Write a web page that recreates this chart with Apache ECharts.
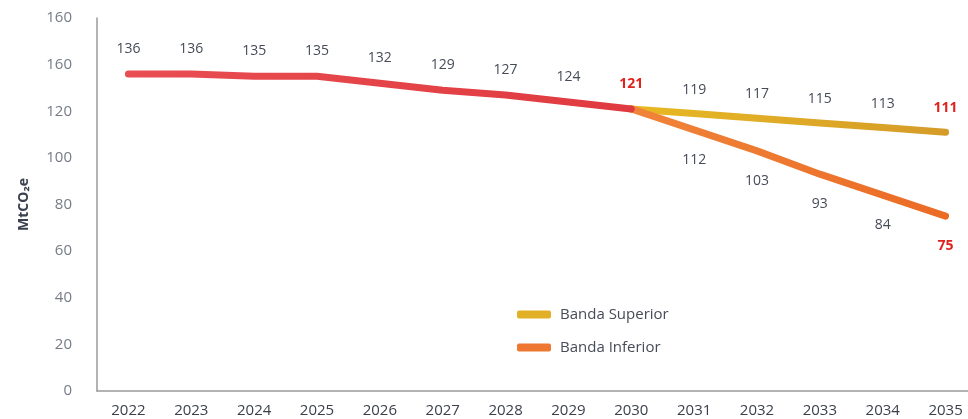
<!DOCTYPE html>
<html>
<head>
<meta charset="utf-8">
<script src="https://cdn.jsdelivr.net/npm/echarts@6/dist/echarts.min.js"></script>
<style>
  html, body { margin: 0; padding: 0; background: #fff; }
  #chart { width: 968px; height: 419px; }
</style>
</head>
<body>
<div id="chart"></div>
<script>
// datos
var years = ['2022', '2023', '2024', '2025', '2026', '2027', '2028', '2029', '2030', '2031', '2032', '2033', '2034', '2035']
var historico = [136, 136, 135, 135, 132, 129, 127, 124, 121, null, null, null, null, null]
var bandaSuperior = [null, null, null, null, null, null, null, null, 121, 119, 117, 115, 113, 111]
var bandaInferior = [null, null, null, null, null, null, null, null, 121, 112, 103, 93, 84, 75]
// etiquetas del eje Y tal como aparecen (el 140 dice 160 en el original)
var yTickLabels = ['0', '20', '40', '60', '80', '100', '120', '160', '160']
var resaltados = ['2030', '2035'] // etiquetas en rojo

var font = 'Open Sans'
var chart = echarts.init(document.getElementById('chart'))

function grad(c1, c2) {
  return new echarts.graphic.LinearGradient(0, 0, 1, 0, [
    { offset: 0, color: c1 },
    { offset: 1, color: c2 }
  ])
}

function labelFmt(p) {
  if (p.value == null) return ''
  return resaltados.indexOf(p.name) >= 0 ? '{r|' + p.value + '}' : '{n|' + p.value + '}'
}

var rich = {
  n: { color: '#464b58', fontSize: 14, fontFamily: font },
  r: { color: '#e0231f', fontSize: 14, fontWeight: 'bold', fontFamily: font }
}

chart.setOption({
  animation: false,
  grid: {
    left: 97,
    top: 18,
    right: -9,
    bottom: 28,
    containLabel: false,
    outerBoundsMode: 'none'
  },
  legend: {
    orient: 'vertical',
    left: 512,
    top: 302,
    itemWidth: 34,
    itemHeight: 8,
    itemGap: 18,
    icon: 'roundRect',
    textStyle: { color: '#464b58', fontSize: 15, fontFamily: font, padding: [0, 0, 0, 4] },
    data: ['Banda Superior', 'Banda Inferior']
  },
  xAxis: {
    type: 'category',
    data: years,
    boundaryGap: true,
    axisLine: { lineStyle: { color: '#9a9a9a', width: 1.5 } },
    axisTick: { show: false },
    axisLabel: { color: '#3c404b', fontSize: 15, fontFamily: font, margin: 12 }
  },
  yAxis: {
    type: 'value',
    min: 0,
    max: 160,
    interval: 20,
    name: 'MtCO₂e',
    nameLocation: 'middle',
    nameGap: 66,
    nameTextStyle: { color: '#3c4150', fontSize: 14, fontWeight: 'bold', fontFamily: font },
    splitLine: { show: false },
    axisTick: { show: false },
    axisLine: { show: true, lineStyle: { color: '#9a9a9a', width: 1.5 } },
    axisLabel: {
      color: '#767b86',
      fontSize: 15,
      fontFamily: font,
      margin: 25,
      formatter: function (v) { return yTickLabels[Math.round(v / 20)] }
    }
  },
  series: [
    {
      name: 'Histórico',
      type: 'line',
      data: historico,
      symbol: 'circle',
      symbolSize: 0,
      showSymbol: true,
      lineStyle: { width: 7, cap: 'round', join: 'round', color: grad('#e94e52', '#df3a3f') },
      label: { show: true, position: 'top', distance: 18, formatter: labelFmt, rich: rich },
      z: 3
    },
    {
      name: 'Banda Superior',
      type: 'line',
      data: bandaSuperior,
      symbol: 'circle',
      symbolSize: 0,
      showSymbol: true,
      itemStyle: { color: '#e2b026' },
      lineStyle: { width: 7, cap: 'round', join: 'round', color: grad('#e8b923', '#d59b29') },
      label: {
        show: true, position: 'top', distance: 17, rich: rich,
        formatter: function (p) { return p.name === '2030' ? '' : labelFmt(p) }
      },
      z: 2
    },
    {
      name: 'Banda Inferior',
      type: 'line',
      data: bandaInferior,
      symbol: 'circle',
      symbolSize: 0,
      showSymbol: true,
      itemStyle: { color: '#ee7830' },
      lineStyle: { width: 7, cap: 'round', join: 'round', color: grad('#f0843a', '#eb6b25') },
      label: {
        show: true, position: 'bottom', distance: 23, rich: rich,
        formatter: function (p) { return p.name === '2030' ? '' : labelFmt(p) }
      },
      z: 2
    }
  ]
})
</script>
</body>
</html>
